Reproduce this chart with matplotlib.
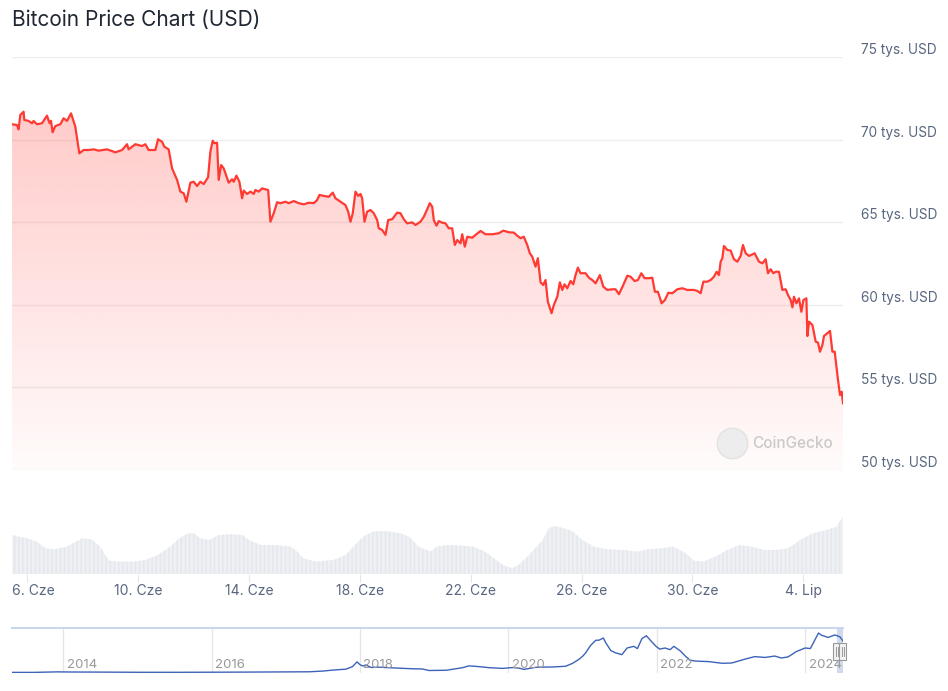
import numpy as np
import matplotlib.pyplot as plt
from matplotlib.patches import Rectangle
from matplotlib.transforms import blended_transform_factory

plt.rcParams['font.family'] = ['Inter', 'DejaVu Sans']

# --- data ---
# price: days after 6 June 2024 00:00, USD
price_day = [
    -0.552, -0.372, -0.314, -0.253, -0.191, -0.134, -0.108, 0.047, 0.170, 0.227,
    0.350, 0.531, 0.711, 0.805, 0.856, 0.913, 1.011, 1.191, 1.310, 1.433,
    1.578, 1.635, 1.733, 1.877, 2.032, 2.213, 2.394, 2.574, 2.877, 3.177,
    3.419, 3.599, 3.657, 3.899, 4.141, 4.260, 4.379, 4.621, 4.718, 4.863,
    4.946, 5.101, 5.224, 5.404, 5.523, 5.643, 5.740, 5.884, 6.004, 6.126,
    6.245, 6.365, 6.523, 6.606, 6.690, 6.751, 6.848, 6.906, 6.993, 7.087,
    7.267, 7.390, 7.448, 7.545, 7.653, 7.751, 7.809, 7.931, 8.051, 8.170,
    8.231, 8.350, 8.473, 8.592, 8.690, 8.773, 8.892, 9.014, 9.134, 9.314,
    9.433, 9.614, 9.794, 9.975, 10.155, 10.336, 10.458, 10.542, 10.697, 10.877,
    11.022, 11.119, 11.300, 11.480, 11.578, 11.661, 11.744, 11.841, 11.939, 12.022,
    12.083, 12.166, 12.264, 12.383, 12.502, 12.625, 12.682, 12.805, 12.924, 13.022,
    13.166, 13.347, 13.466, 13.585, 13.708, 13.888, 14.007, 14.188, 14.307, 14.430,
    14.523, 14.610, 14.668, 14.765, 14.848, 14.971, 15.090, 15.209, 15.332, 15.426,
    15.513, 15.632, 15.693, 15.787, 15.874, 16.054, 16.173, 16.354, 16.534, 16.776,
    17.014, 17.173, 17.375, 17.556, 17.679, 17.798, 17.917, 18.040, 18.134, 18.220,
    18.339, 18.422, 18.520, 18.617, 18.700, 18.783, 18.917, 19.000, 19.123, 19.217,
    19.303, 19.386, 19.484, 19.603, 19.700, 19.783, 19.866, 19.964, 20.144, 20.264,
    20.386, 20.505, 20.661, 20.783, 20.928, 21.108, 21.227, 21.347, 21.505, 21.650,
    21.769, 21.913, 22.032, 22.155, 22.274, 22.430, 22.552, 22.646, 22.755, 22.888,
    23.007, 23.130, 23.274, 23.455, 23.635, 23.816, 24.054, 24.177, 24.296, 24.394,
    24.538, 24.657, 24.776, 24.874, 24.957, 25.018, 25.079, 25.137, 25.260, 25.379,
    25.498, 25.621, 25.740, 25.823, 25.921, 26.040, 26.126, 26.245, 26.401, 26.523,
    26.643, 26.726, 26.823, 26.921, 27.004, 27.123, 27.245, 27.365, 27.448, 27.545,
    27.607, 27.664, 27.751, 27.845, 27.931, 28.004, 28.112, 28.148, 28.206, 28.329,
    28.448, 28.531, 28.603, 28.690, 28.747, 28.870, 28.964, 29.051, 29.134, 29.253,
    29.325, 29.386, 29.433,
]
price_usd = [
    70930, 70880, 70620, 71490, 71590, 71690, 71190, 71130, 70990, 71130,
    70930, 70990, 71450, 70990, 71140, 70440, 70820, 70930, 71290, 71130,
    71590, 71290, 70780, 69170, 69370, 69370, 69410, 69330, 69410, 69230,
    69370, 69720, 69410, 69720, 69610, 69720, 69370, 69370, 70020, 69870,
    69570, 69410, 68260, 67560, 66850, 66750, 66240, 67390, 67450, 67190,
    67450, 67310, 67720, 69270, 69930, 69780, 69810, 67560, 68460, 68260,
    67390, 67600, 67450, 67820, 67450, 66450, 66910, 66710, 66850, 66710,
    66950, 66850, 67050, 66990, 66950, 65030, 65540, 66210, 66150, 66240,
    66150, 66280, 66150, 66080, 66180, 66150, 66340, 66650, 66590, 66540,
    66790, 66450, 66240, 66040, 65640, 65030, 65540, 66850, 66590, 66710,
    66450, 65030, 65640, 65740, 65540, 65130, 64630, 64530, 64230, 65130,
    65180, 65580, 65540, 65180, 64930, 64990, 64830, 65030, 65330, 65780,
    66150, 65940, 65130, 64790, 65070, 64970, 64930, 64630, 64630, 63620,
    63920, 63720, 64270, 63520, 64120, 64060, 64230, 64470, 64270, 64270,
    64330, 64490, 64390, 64370, 64180, 64030, 64120, 63620, 63120, 62910,
    62310, 62820, 61360, 61200, 61500, 60190, 59490, 59990, 60490, 61360,
    60900, 61240, 61000, 61440, 61240, 61800, 62250, 61910, 61910, 61640,
    61500, 61300, 61800, 61100, 60900, 60940, 60940, 60640, 61200, 61760,
    61700, 61440, 61500, 61910, 61610, 61610, 61640, 60790, 60790, 60090,
    60290, 60730, 60700, 60940, 61000, 60900, 60900, 60840, 60700, 61400,
    61400, 61500, 61700, 62000, 61800, 62610, 62820, 63560, 63320, 63280,
    62760, 62610, 62960, 63620, 63120, 62960, 63020, 63120, 62610, 62510,
    62760, 61910, 62150, 61910, 62000, 62000, 60900, 60940, 60590, 60290,
    59850, 60490, 60090, 60390, 59580, 60290, 60390, 58110, 58980, 58780,
    57770, 57710, 57160, 57570, 58110, 58280, 58420, 57160, 57160, 55450,
    54540, 54740, 54040,
]

# traded volume envelope, billions USD
vol_day = [
    -0.54, -0.32, 0.01, 0.34, 0.66, 0.99, 1.43, 1.76, 1.98, 2.31,
    2.63, 2.85, 2.96, 3.29, 3.84, 4.27, 4.71, 5.15, 5.48, 5.80,
    6.02, 6.24, 6.57, 6.90, 7.34, 7.77, 7.99, 8.43, 8.87, 9.30,
    9.52, 9.74, 9.96, 10.40, 11.05, 11.49, 11.82, 12.15, 12.47, 12.80,
    13.13, 13.46, 13.78, 14.11, 14.55, 14.77, 15.21, 15.64, 16.08, 16.52,
    16.84, 17.17, 17.50, 17.72, 18.05, 18.27, 18.60, 18.82, 19.03, 19.36,
    19.69, 20.02, 20.46, 20.89, 21.55, 21.99, 22.42, 22.86, 23.30, 23.73,
    24.06, 24.39, 24.83, 25.26, 25.70, 26.14, 26.58, 27.01, 27.45, 27.89,
    28.33, 28.76, 29.20, 29.43,
]
vol_busd = [
    23.4, 22.4, 21.4, 19.4, 15.4, 14.8, 16.4, 19.4, 21.4, 20.8,
    16.4, 10.4, 8.0, 7.4, 7.4, 8.4, 11.4, 16.4, 21.4, 24.4,
    24.4, 21.4, 20.4, 23.4, 23.8, 23.4, 20.4, 17.4, 17.4, 16.8,
    16.4, 13.4, 9.4, 7.4, 8.4, 11.4, 17.4, 22.8, 25.4, 25.8,
    25.4, 24.4, 22.4, 16.4, 13.4, 16.4, 17.4, 17.0, 16.4, 13.4,
    9.4, 5.4, 3.4, 5.4, 10.4, 14.4, 20.4, 27.4, 28.8, 27.4,
    25.4, 20.4, 16.4, 14.8, 14.4, 13.4, 14.8, 15.4, 16.4, 12.8,
    8.0, 7.4, 10.4, 14.4, 17.4, 16.4, 14.4, 14.4, 15.4, 20.4,
    24.4, 26.0, 28.4, 34.4,
]

# navigator: full history, decimal year vs thousand USD
hist_year = [
    2013.31, 2013.60, 2013.92, 2014.10, 2014.50, 2015.00, 2015.50, 2016.00, 2016.50, 2017.00,
    2017.32, 2017.50, 2017.63, 2017.81, 2017.90, 2017.96, 2018.00, 2018.04, 2018.08, 2018.15,
    2018.26, 2018.39, 2018.53, 2018.71, 2018.84, 2018.93, 2019.16, 2019.38, 2019.47, 2019.60,
    2019.74, 2019.92, 2020.06, 2020.14, 2020.21, 2020.37, 2020.59, 2020.77, 2020.86, 2020.95,
    2021.00, 2021.04, 2021.11, 2021.18, 2021.22, 2021.28, 2021.31, 2021.38, 2021.44, 2021.53,
    2021.60, 2021.69, 2021.74, 2021.80, 2021.86, 2021.92, 2021.99, 2022.04, 2022.11, 2022.18,
    2022.23, 2022.32, 2022.38, 2022.45, 2022.52, 2022.70, 2022.88, 2023.01, 2023.19, 2023.32,
    2023.46, 2023.59, 2023.68, 2023.77, 2023.88, 2024.00, 2024.07, 2024.18, 2024.22, 2024.31,
    2024.40, 2024.47, 2024.51,
]
hist_kusd = [
    0.12, 0.10, 1.05, 0.80, 0.62, 0.31, 0.26, 0.43, 0.67, 0.97,
    1.20, 2.50, 4.20, 5.90, 10.5, 19.0, 14.0, 11.5, 13.5, 9.0,
    9.5, 8.5, 7.7, 6.6, 6.3, 3.5, 3.9, 8.5, 11.8, 10.5,
    8.6, 7.3, 8.8, 7.8, 5.5, 9.3, 9.8, 11.1, 16.0, 23.5,
    29.0, 35.0, 49.0, 58.0, 58.0, 62.0, 54.0, 39.5, 35.5, 32.0,
    44.0, 47.0, 43.0, 61.0, 66.0, 57.0, 47.0, 42.0, 44.0, 41.0,
    47.0, 38.5, 30.0, 22.0, 20.5, 19.5, 16.5, 17.0, 24.0, 28.5,
    27.0, 29.5, 26.0, 28.0, 37.5, 44.0, 43.0, 71.0, 67.0, 63.0,
    67.5, 64.0, 56.5,
]

date_ticks = [0, 4, 8, 12, 16, 20, 24, 28]
date_labels = ['6. Cze', '10. Cze', '14. Cze', '18. Cze', '22. Cze', '26. Cze', '30. Cze', '4. Lip']
price_ticks = [50000, 55000, 60000, 65000, 70000, 75000]
price_labels = ['50 tys. USD', '55 tys. USD', '60 tys. USD', '65 tys. USD', '70 tys. USD', '75 tys. USD']
year_ticks = [2014, 2016, 2018, 2020, 2022, 2024]
june6 = 2024 + 157 / 366  # 6 June 2024 as decimal year

W, H = 948, 691
fig = plt.figure(figsize=(W / 100, H / 100), dpi=100)


def box(x0, y0, x1, y1):
    # pixel box (origin top-left) -> figure fraction rect
    return [x0 / W, 1 - y1 / H, (x1 - x0) / W, (y1 - y0) / H]


ax = fig.add_axes(box(12, 57, 843, 470))
axv = fig.add_axes(box(12, 500, 843, 574))
axn = fig.add_axes(box(12, 628, 843, 673))

red = '#ff3a33'
slate = '#58667e'
x0, x1 = price_day[0], price_day[-1]

# price area with a fading red gradient
fill = ax.fill_between(price_day, price_usd, price_ticks[0], facecolor='none', lw=0)
grad = np.zeros((256, 1, 4))
grad[..., 0] = 1.0
grad[..., 1] = 58 / 255
grad[..., 2] = 51 / 255
grad[:, 0, 3] = np.linspace(0.02, 0.3, 256)
im = ax.imshow(grad, extent=[x0, x1, price_ticks[0], price_ticks[-1]],
               origin='lower', aspect='auto', zorder=1)
im.set_clip_path(fill.get_paths()[0], transform=ax.transData)
ax.plot(price_day, price_usd, color=red, lw=1.6, zorder=3, solid_joinstyle='round')
ax.set_xlim(x0, x1)
ax.set_ylim(price_ticks[0], price_ticks[-1])
ax.set_yticks(price_ticks)
ax.set_xticks([])
ax.tick_params(axis='y', length=0, labelleft=False, labelright=False)
ax.grid(axis='y', color='#eeeeee', lw=1)
ax.set_axisbelow(True)
for s in ax.spines.values():
    s.set_visible(False)
for v, s in zip(price_ticks, price_labels):
    ax.annotate(s, xy=(1, v), xycoords=('axes fraction', 'data'), xytext=(13, 5),
                textcoords='offset points', ha='left', va='center', fontsize=9.8,
                color=slate, annotation_clip=False)

# watermark
ax.plot([0.866], [0.065], 'o', ms=22, color='#ededed', mec='#e2e2e2', transform=ax.transAxes, zorder=2)
ax.text(0.8905, 0.065, 'CoinGecko', transform=ax.transAxes, color='#c9c9c9', fontsize=11,
        ha='left', va='center', fontweight='medium', zorder=2)

# volume
axv.fill_between(vol_day, vol_busd, 0, facecolor='#eef0f3', edgecolor='#e4e7ec', hatch='||||', lw=0)
axv.set_xlim(x0, x1)
axv.set_ylim(0, 44.4)
axv.set_yticks([])
axv.set_xticks(date_ticks)
axv.tick_params(axis='x', length=6, color='#e6e6e6', labelbottom=False)
for s in axv.spines.values():
    s.set_visible(False)
for i, (d, s) in enumerate(zip(date_ticks, date_labels)):
    if i == 0:
        axv.annotate(s, xy=(0, 0), xycoords='axes fraction', xytext=(0, -12),
                     textcoords='offset points', ha='left', va='center', fontsize=10, color=slate)
    else:
        axv.annotate(s, xy=(d, 0), xycoords=('data', 'axes fraction'), xytext=(0, -12),
                     textcoords='offset points', ha='center', va='center', fontsize=10, color=slate)

# navigator
axn.plot(hist_year, hist_kusd, color='#3d63b8', lw=1)
axn.set_xlim(hist_year[0], hist_year[-1])
axn.set_ylim(-1, 80)
axn.set_xticks(year_ticks)
axn.set_yticks([])
axn.tick_params(axis='x', length=0, labelbottom=False)
axn.grid(axis='x', color='#e6e6e6', lw=1)
axn.set_axisbelow(True)
for k, s in axn.spines.items():
    s.set_visible(k == 'top')
axn.spines['top'].set_color('#ccd6eb')
axn.spines['top'].set_linewidth(1.5)
for y in year_ticks:
    axn.annotate(str(y), xy=(y, 0), xycoords=('data', 'axes fraction'), xytext=(2.5, 6),
                 textcoords='offset points', ha='left', va='center', fontsize=9.5, color='#999999')

sel0 = june6 + x0 / 366
sel1 = june6 + x1 / 366
axn.axvspan(sel0, sel1, color='#6685c2', alpha=0.3, lw=0)
blend = blended_transform_factory(axn.transData, axn.transAxes)
hw = 7 / 831 * (hist_year[-1] - hist_year[0])
for hx in (sel0, sel1):
    axn.add_patch(Rectangle((hx - hw / 2, 0.3), hw, 0.36, facecolor='#f2f2f2', edgecolor='#999999',
                            lw=0.8, transform=blend, clip_on=False, zorder=5))
    for off in (-hw / 6, hw / 6):
        axn.plot([hx + off, hx + off], [0.38, 0.58], color='#999999', lw=0.7,
                 transform=blend, clip_on=False, zorder=6)

fig.text(12 / W, 1 - 20 / H, 'Bitcoin Price Chart (USD)', ha='left', va='center',
         fontsize=15, color='#1f2733')

fig.savefig('out.png', dpi=100)
